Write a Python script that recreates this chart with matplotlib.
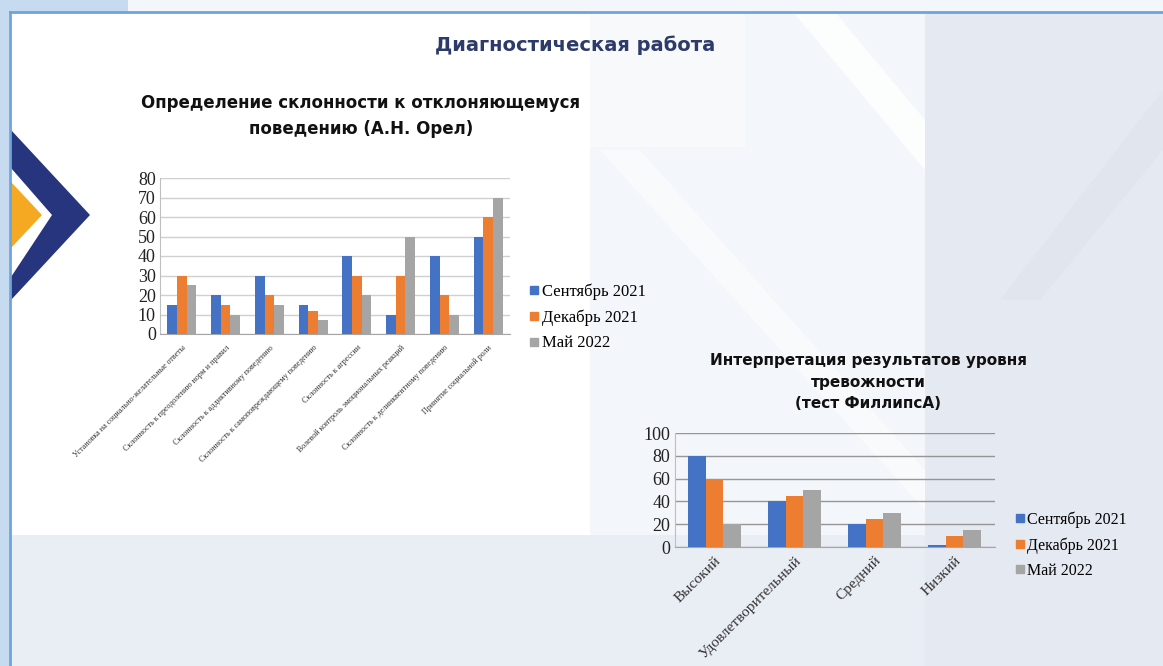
import numpy as np
import matplotlib
matplotlib.use("Agg")
import matplotlib.pyplot as plt
from matplotlib.patches import Polygon, Rectangle
from matplotlib.lines import Line2D

# Данные: склонность к отклоняющемуся поведению (А.Н. Орел)
scales_orel = [
    "Установка на социально-желательные ответы",
    "Склонность к преодолению норм и правил",
    "Склонность к аддиктивному поведению",
    "Склонность к самоповреждающему поведению",
    "Склонность к агрессии",
    "Волевой контроль эмоциональных реакций",
    "Склонность к делинквентному поведению",
    "Принятие социальной роли",
]
orel_sep21 = [15, 20, 30, 15, 40, 10, 40, 50]
orel_dec21 = [30, 15, 20, 12, 30, 30, 20, 60]
orel_may22 = [25, 10, 15, 7, 20, 50, 10, 70]
orel_yticks = [0, 10, 20, 30, 40, 50, 60, 70, 80]

# Данные: уровень тревожности (тест Филлипса)
levels_phil = ["Высокий", "Удовлетворительный", "Средний", "Низкий"]
phil_sep21 = [80, 40, 20, 2]
phil_dec21 = [60, 45, 25, 10]
phil_may22 = [20, 50, 30, 15]
phil_yticks = [0, 20, 40, 60, 80, 100]

series_names = ["Сентябрь 2021", "Декабрь 2021", "Май 2022"]
colors = ["#4472C4", "#ED7D31", "#A5A5A5"]

W, H = 1163, 666
fig = plt.figure(figsize=(W / 100, H / 100), dpi=100)

# Фон слайда в пиксельных координатах
bg = fig.add_axes([0, 0, 1, 1], zorder=0)
bg.set_xlim(0, W)
bg.set_ylim(H, 0)
bg.axis("off")

bg.add_patch(Rectangle((0, 0), W, H, color="#f3f6fa", lw=0))
bg.add_patch(Rectangle((10, 12), 580, 523, color="white", lw=0))
bg.add_patch(Polygon([(590, 12), (745, 12), (745, 147), (590, 147)], closed=True,
                     color="white", alpha=0.35, lw=0))
bg.add_patch(Polygon([(793, 12), (835, 12), (925, 120), (925, 170)], closed=True,
                     color="white", alpha=0.8, lw=0))
bg.add_patch(Polygon([(600, 150), (640, 150), (925, 470), (925, 510)], closed=True,
                     color="white", alpha=0.5, lw=0))
bg.add_patch(Rectangle((10, 535), W, H, color="#e9edf4", lw=0))
bg.add_patch(Rectangle((925, 12), W, H, color="#e5e9f1", lw=0))
bg.add_patch(Polygon([(1163, 90), (1163, 150), (1040, 300), (1000, 300)], closed=True,
                     color="#dfe5ee", alpha=0.8, lw=0))

# рамка и уголок
bg.add_patch(Rectangle((0, 0), 128, 12, color="#c6daf0", lw=0))
bg.add_patch(Rectangle((0, 0), 9, H, color="#c6daf0", lw=0))
bg.plot([10, W], [12, 12], color="#6fa3dc", lw=2)
bg.plot([10, 10], [12, H], color="#6fa3dc", lw=2)

# шеврон слева
bg.add_patch(Polygon([(11, 130), (90, 215), (11, 300), (11, 277), (52, 215), (11, 168)],
                     closed=True, color="#27357e", lw=0))
bg.add_patch(Polygon([(11, 182), (42, 215), (11, 248)], closed=True, color="#f5a922", lw=0))

title_font = "DejaVu Sans"
bg.text(575, 45, "Диагностическая работа", ha="center", va="center",
        fontsize=14, fontweight="bold", color="#2d3b6b", family=title_font)

bg.text(361, 116, "Определение склонности к отклоняющемуся\nповедению (А.Н. Орел)",
        ha="center", va="center", fontsize=12, fontweight="bold", color="#111111",
        family=title_font, linespacing=1.55)

bg.text(868, 382, "Интерпретация результатов уровня\nтревожности\n(тест ФиллипсА)",
        ha="center", va="center", fontsize=11, fontweight="bold", color="#111111",
        family=title_font, linespacing=1.5)


def bar_chart(rect, cats, sep, dec, may, yticks, xfont, grid_color, legend_xy, legend_font):
    ax = fig.add_axes(rect, zorder=2)
    ax.patch.set_alpha(0)
    x = np.arange(len(cats))
    w = 0.22
    for i, vals in enumerate([sep, dec, may]):
        ax.bar(x + (i - 1) * w, vals, width=w, color=colors[i], zorder=3)
    ax.set_xlim(-0.5, len(cats) - 0.5)
    ax.set_ylim(yticks[0], yticks[-1])
    ax.set_yticks(yticks)
    ax.yaxis.grid(True, color=grid_color, lw=1.0, zorder=0)
    ax.set_axisbelow(True)
    ax.set_xticks(x)
    ax.set_xticklabels(cats, rotation=45, ha="right", rotation_mode="anchor",
                       fontsize=xfont, family="Liberation Serif", color="#333333")
    for t in ax.get_yticklabels():
        t.set_family("Liberation Serif")
        t.set_fontsize(13)
        t.set_color("#222222")
    ax.tick_params(axis="both", length=0, pad=3)
    for s in ["top", "right"]:
        ax.spines[s].set_visible(False)
    ax.spines["left"].set_color("#bfbfbf")
    ax.spines["bottom"].set_color("#a6a6a6")
    handles = [Line2D([], [], marker="s", ls="", ms=6, color=c) for c in colors]
    ax.legend(handles, series_names, loc="upper left", bbox_to_anchor=legend_xy,
              bbox_transform=fig.transFigure, frameon=False, handlelength=0.6,
              handletextpad=0.15, labelspacing=0.58,
              prop={"family": "Liberation Serif", "size": legend_font})
    return ax


ax1 = bar_chart([160 / W, 1 - 334 / H, 350 / W, 156 / H], scales_orel,
                orel_sep21, orel_dec21, orel_may22, orel_yticks, 5.8, "#d0d0d0",
                (514 / W, 1 - 268 / H), 12)
ax1.tick_params(axis="x", pad=7)

ax2 = bar_chart([674.5 / W, 1 - 547 / H, 320 / W, 114 / H], levels_phil,
                phil_sep21, phil_dec21, phil_may22, phil_yticks, 11, "#969696",
                (1001 / W, 1 - 497 / H), 11.5)
ax2.tick_params(axis="x", pad=5)

fig.savefig("out.png", dpi=100)
